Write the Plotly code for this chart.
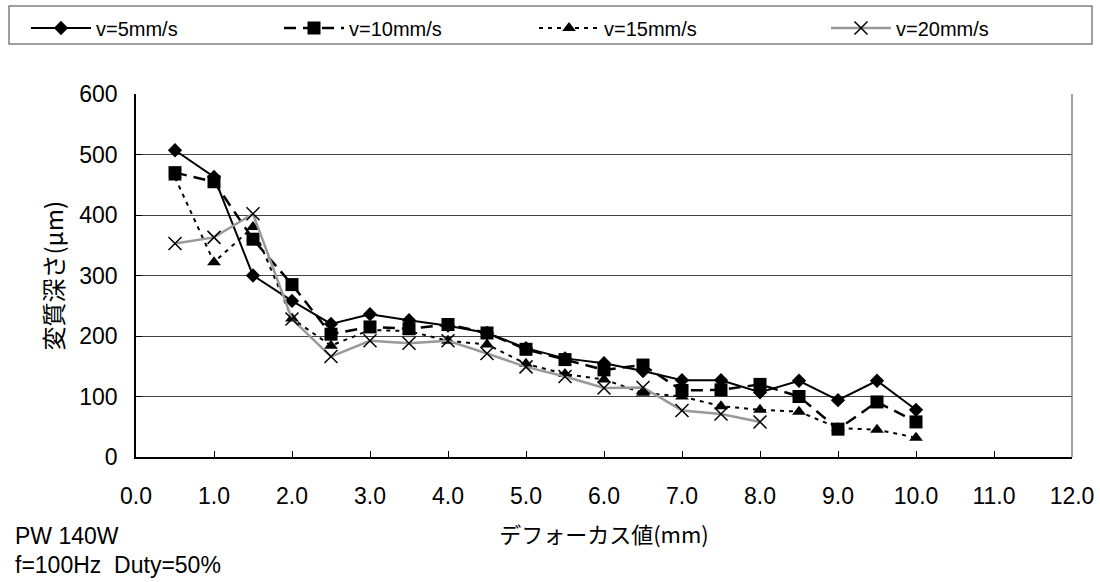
import plotly.graph_objects as go

x_vals = [0.5, 1.0, 1.5, 2.0, 2.5, 3.0, 3.5, 4.0, 4.5, 5.0, 5.5, 6.0, 6.5, 7.0, 7.5, 8.0, 8.5, 9.0, 9.5, 10.0]
v5 = [507, 463, 300, 258, 220, 236, 226, 217, 205, 180, 163, 155, 142, 127, 127, 107, 126, 94, 126, 78]
v10 = [470, 455, 360, 285, 203, 215, 212, 219, 205, 178, 161, 144, 152, 110, 111, 120, 100, 46, 91, 58]
v15 = [462, 322, 380, 229, 184, 210, 208, 192, 186, 154, 137, 128, 106, 100, 84, 78, 75, 48, 45, 32]
x20 = [0.5, 1.0, 1.5, 2.0, 2.5, 3.0, 3.5, 4.0, 4.5, 5.0, 5.5, 6.0, 6.5, 7.0, 7.5, 8.0]
v20 = [353, 363, 402, 228, 166, 192, 188, 192, 171, 149, 133, 114, 115, 77, 71, 58]

names = ["v=5mm/s", "v=10mm/s", "v=15mm/s", "v=20mm/s"]
x_ticks = [0, 1, 2, 3, 4, 5, 6, 7, 8, 9, 10, 11, 12]
y_ticks = [0, 100, 200, 300, 400, 500, 600]

W, H = 1100, 582
L, R, T, B = 136, 28, 94, 125
PW, PH = W - L - R, H - T - B

def px(xp):
    return (xp - L) / PW

def py(yp):
    return (H - B - yp) / PH

TXT = "Liberation Sans, Arial, sans-serif"
CJK = "Noto Sans CJK JP"

fig = go.Figure()
fig.add_trace(go.Scatter(x=x_vals, y=v5, name=names[0], mode="lines+markers", legend="legend",
                         line=dict(color="black", width=2, dash="solid"),
                         marker=dict(symbol="diamond", size=11, color="black")))
fig.add_trace(go.Scatter(x=x_vals, y=v10, name=names[1], mode="lines+markers", legend="legend2",
                         line=dict(color="black", width=2.5, dash="12px,7px"),
                         marker=dict(symbol="square", size=13, color="black")))
fig.add_trace(go.Scatter(x=x_vals, y=v15, name=names[2], mode="lines+markers", legend="legend3",
                         line=dict(color="black", width=2, dash="4px,5px"),
                         marker=dict(symbol="triangle-up", size=12, color="black")))
fig.add_trace(go.Scatter(x=x20, y=v20, name=names[3], mode="lines+markers", legend="legend4",
                         line=dict(color="#999999", width=2.5, dash="solid"),
                         marker=dict(symbol="x-thin-open", size=13, color="black",
                                     line=dict(color="black", width=1.5))))

leg_text_x = [103, 356, 611, 903]
ITEMW = 60
leg_common = dict(xref="container", yref="container", xanchor="left", yanchor="middle",
                  y=1 - 28 / H, itemwidth=ITEMW, borderwidth=0, bgcolor="rgba(0,0,0,0)",
                  font=dict(size=20, family=TXT, color="black"))
legends = {}
for i, key in enumerate(["legend", "legend2", "legend3", "legend4"]):
    legends[key] = dict(leg_common, x=(leg_text_x[i] - ITEMW - 17) / W)

fig.update_layout(
    width=W, height=H,
    paper_bgcolor="white", plot_bgcolor="white",
    margin=dict(l=L, r=R, t=T, b=B, autoexpand=False),
    font=dict(family=TXT, color="black", size=23),
    showlegend=True,
    **legends,
    xaxis=dict(range=[0, 12], tickvals=x_ticks, tickformat=".1f",
               ticks="inside", ticklen=6, tickcolor="black", ticklabelstandoff=18,
               tickfont=dict(size=23, family=TXT),
               showline=True, linecolor="black", linewidth=1.5, mirror=False,
               showgrid=False, zeroline=False,
               title=dict(text="デフォーカス値(mm)", standoff=19,
                          font=dict(size=22, family=CJK))),
    yaxis=dict(range=[0, 600], tickvals=y_ticks,
               ticks="inside", ticklen=6, tickcolor="black", ticklabelstandoff=12,
               tickfont=dict(size=23, family=TXT),
               showline=True, linecolor="black", linewidth=1.5, mirror=False,
               showgrid=True, gridcolor="#444444", gridwidth=1, zeroline=False),
    shapes=[
        dict(type="line", xref="paper", yref="paper", x0=1, x1=1, y0=0, y1=1,
             line=dict(color="#808080", width=1.5)),
        dict(type="rect", xref="paper", yref="paper", x0=px(9), x1=px(1092),
             y0=py(44), y1=py(6), line=dict(color="#808080", width=1.5),
             fillcolor="rgba(0,0,0,0)"),
    ],
    annotations=[
        dict(text="変質深さ(μm)", xref="paper", yref="paper", x=px(52), y=0.5,
             xanchor="center", yanchor="middle", textangle=-90, showarrow=False,
             font=dict(size=24, family=CJK)),
        dict(text="PW 140W", xref="paper", yref="paper", x=px(13), y=py(536),
             xanchor="left", yanchor="middle", showarrow=False,
             font=dict(size=23, family=TXT)),
        dict(text="f=100Hz&nbsp;&nbsp;Duty=50%", xref="paper", yref="paper", x=px(13), y=py(565),
             xanchor="left", yanchor="middle", showarrow=False,
             font=dict(size=23, family=TXT)),
    ],
)

fig.write_html("out.html", config={"displayModeBar": False},
               post_script="document.body.style.margin='0px';")
